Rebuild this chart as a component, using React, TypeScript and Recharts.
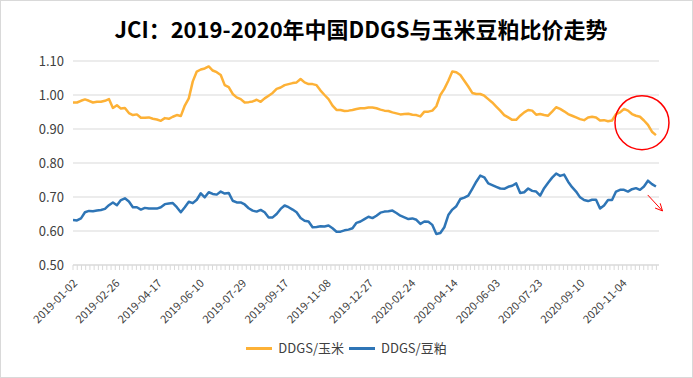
import React from 'react';
import { LineChart, Line, XAxis, YAxis, CartesianGrid, Legend, ReferenceDot, ReferenceLine } from 'recharts';

const xLabels = [
  '2019-01-02', '2019-02-26', '2019-04-17', '2019-06-10', '2019-07-29', '2019-09-17', '2019-11-08',
  '2019-12-27', '2020-02-24', '2020-04-14', '2020-06-03', '2020-07-23', '2020-09-10', '2020-11-04',
];

const yTicks = [0.5, 0.6, 0.7, 0.8, 0.9, 1.0, 1.1];

const cornRatio = [
  0.978, 0.978, 0.983, 0.987, 0.983, 0.978, 0.98, 0.98, 0.983, 0.988, 0.962, 0.97, 0.96, 0.962, 0.947,
  0.941, 0.943, 0.933, 0.933, 0.934, 0.93, 0.928, 0.924, 0.932, 0.93, 0.936, 0.941, 0.938, 0.969, 0.99,
  1.04, 1.069, 1.075, 1.078, 1.084, 1.072, 1.067, 1.059, 1.029, 1.023, 1.003, 0.993, 0.988, 0.978, 0.979,
  0.981, 0.986, 0.98, 0.99, 0.998, 1.006, 1.018, 1.022, 1.029, 1.032, 1.035, 1.037, 1.047, 1.037, 1.032,
  1.032, 1.029, 1.013, 1.0, 0.988, 0.969, 0.956, 0.956, 0.953, 0.954, 0.956, 0.959, 0.961, 0.961, 0.963,
  0.963, 0.961, 0.957, 0.954, 0.953, 0.949, 0.946, 0.943, 0.944, 0.945, 0.942, 0.941, 0.937, 0.951,
  0.951, 0.954, 0.967, 1.0, 1.018, 1.042, 1.069, 1.067, 1.059, 1.042, 1.025, 1.006, 1.003, 1.003, 0.998,
  0.988, 0.978, 0.966, 0.954, 0.941, 0.934, 0.927, 0.927, 0.939, 0.949, 0.956, 0.954, 0.942, 0.944, 0.941,
  0.939, 0.951, 0.964, 0.959, 0.952, 0.944, 0.939, 0.934, 0.929, 0.926, 0.934, 0.936, 0.934, 0.925, 0.926,
  0.923, 0.925, 0.944, 0.949, 0.959, 0.954, 0.944, 0.939, 0.936, 0.925, 0.912, 0.892, 0.882,
];

const mealRatio = [
  0.632, 0.631, 0.637, 0.655, 0.659, 0.658, 0.66, 0.662, 0.665, 0.676, 0.684, 0.676, 0.691, 0.696, 0.687,
  0.67, 0.67, 0.663, 0.668, 0.666, 0.666, 0.666, 0.67, 0.679, 0.681, 0.682, 0.67, 0.655, 0.67, 0.686,
  0.682, 0.692, 0.711, 0.699, 0.714, 0.709, 0.707, 0.716, 0.71, 0.712, 0.689, 0.684, 0.684, 0.678, 0.667,
  0.66, 0.657, 0.662, 0.655, 0.64, 0.64, 0.65, 0.665, 0.675, 0.67, 0.663, 0.655, 0.638, 0.63, 0.628,
  0.611, 0.612, 0.614, 0.613, 0.616, 0.608, 0.598, 0.598, 0.602, 0.604, 0.608, 0.624, 0.628, 0.635, 0.642,
  0.638, 0.645, 0.654, 0.657, 0.658, 0.66, 0.653, 0.645, 0.64, 0.635, 0.637, 0.633, 0.621, 0.628,
  0.627, 0.618, 0.591, 0.594, 0.611, 0.647, 0.663, 0.673, 0.694, 0.698, 0.704, 0.724, 0.745, 0.763, 0.758,
  0.74, 0.735, 0.73, 0.725, 0.724, 0.73, 0.733, 0.74, 0.712, 0.714, 0.725, 0.718, 0.716, 0.704, 0.726,
  0.742, 0.757, 0.769, 0.762, 0.766, 0.745, 0.729, 0.716, 0.699, 0.691, 0.688, 0.692, 0.692, 0.666, 0.675,
  0.691, 0.691, 0.716, 0.721, 0.721, 0.716, 0.723, 0.726, 0.721, 0.731, 0.748, 0.738, 0.731,
];

const DAYS_PER_SAMPLE = 3.4;
const TOTAL_DAYS = 499;
const MINOR_STEP = 3.6;
const LABEL_EVERY = 10;

const ORANGE = '#FDB136';
const BLUE = '#2E75B6';
const GRID = '#D9D9D9';
const TEXT = '#404040';
const FONT = '"Noto Sans CJK SC", "Noto Sans", sans-serif';

const data = cornRatio.map((v, i) => ({ t: i * DAYS_PER_SAMPLE, corn: v, meal: mealRatio[i] }));
const xTicks = Array.from({ length: Math.floor(TOTAL_DAYS / MINOR_STEP) + 1 }, (_, i) => Math.round(i * MINOR_STEP * 10) / 10);

const XTick = (props: any) => {
  const { x, y, payload } = props;
  const n = Math.round(payload.value / MINOR_STEP);
  if (n % LABEL_EVERY !== 0) return <g />;
  const label = xLabels[n / LABEL_EVERY];
  if (!label) return <g />;
  const ax = x + 5;
  const ay = y + 12;
  return (
    <text x={ax} y={ay} transform={`rotate(-45 ${ax} ${ay})`} textAnchor="end" fontSize={11} fill={TEXT} fontFamily={FONT}>
      {label}
    </text>
  );
};

const ArrowShape = (props: any) => {
  const { x1, y1, x2, y2 } = props;
  const ang = Math.atan2(y2 - y1, x2 - x1);
  const len = 8;
  const a1 = ang + Math.PI - 0.45;
  const a2 = ang + Math.PI + 0.45;
  const p1 = `${x2 + len * Math.cos(a1)},${y2 + len * Math.sin(a1)}`;
  const p2 = `${x2 + len * Math.cos(a2)},${y2 + len * Math.sin(a2)}`;
  return (
    <g>
      <line x1={x1} y1={y1} x2={x2} y2={y2} stroke="#FF0000" strokeWidth={1} />
      <path d={`M${p1} L${x2},${y2} L${p2}`} fill="none" stroke="#FF0000" strokeWidth={1} />
    </g>
  );
};

const renderLegend = (props: any) => {
  const { payload } = props;
  return (
    <div style={{ display: 'flex', justifyContent: 'center', alignItems: 'center', fontSize: 13, color: TEXT, fontFamily: FONT, lineHeight: '18px' }}>
      {(payload || []).map((p: any, i: number) => (
        <div key={i} style={{ display: 'flex', alignItems: 'center', marginLeft: i === 0 ? 0 : 5 }}>
          <span style={{ display: 'inline-block', width: 26, height: 3, background: p.color, marginRight: 6 }} />
          <span>{p.value}</span>
        </div>
      ))}
    </div>
  );
};

export default function App() {
  return (
    <div style={{ position: 'absolute', left: 0, top: 0, width: 693, height: 378, boxSizing: 'border-box', border: '1px solid #D9D9D9', background: '#fff' }}>
      <div style={{ position: 'absolute', left: 360, top: 12, transform: 'translateX(-50%)', whiteSpace: 'nowrap', fontFamily: FONT, fontWeight: 700, fontSize: 22, lineHeight: '30px', color: '#000' }}>
        JCI：2019-2020年中国DDGS与玉米豆粕比价走势
      </div>
      <div style={{ position: 'absolute', left: -1, top: -1 }}>
        <LineChart width={693} height={378} data={data} margin={{ top: 61, right: 34, bottom: 83, left: 0 }}>
          <CartesianGrid vertical={false} stroke={GRID} />
          <XAxis
            type="number"
            dataKey="t"
            domain={[0, TOTAL_DAYS]}
            ticks={xTicks}
            interval={0}
            height={30}
            tick={<XTick />}
            tickSize={5}
            tickLine={{ stroke: GRID }}
            axisLine={{ stroke: GRID }}
            allowDataOverflow
          />
          <YAxis
            type="number"
            domain={[0.5, 1.1]}
            ticks={yTicks}
            interval={0}
            width={73}
            axisLine={false}
            tickLine={false}
            tickSize={0}
            tickMargin={9}
            tickFormatter={(v: number) => v.toFixed(2)}
            tick={{ fontSize: 13, fill: TEXT, fontFamily: FONT }}
          />
          <Legend
            layout="horizontal"
            verticalAlign="middle"
            align="center"
            content={renderLegend}
            wrapperStyle={{ top: 339, left: 0, width: 693 }}
          />
          <Line type="linear" dataKey="corn" name="DDGS/玉米" stroke={ORANGE} strokeWidth={2.5} dot={false} isAnimationActive={false} strokeLinejoin="round" />
          <Line type="linear" dataKey="meal" name="DDGS/豆粕" stroke={BLUE} strokeWidth={2.5} dot={false} isAnimationActive={false} strokeLinejoin="round" />
          <ReferenceDot x={484.5} y={0.9185} r={27} fill="none" stroke="#FF0000" strokeWidth={1.5} ifOverflow="visible" />
          <ReferenceLine segment={[{ x: 489.4, y: 0.706 }, { x: 502, y: 0.659 }]} ifOverflow="visible" shape={<ArrowShape />} />
        </LineChart>
      </div>
    </div>
  );
}
